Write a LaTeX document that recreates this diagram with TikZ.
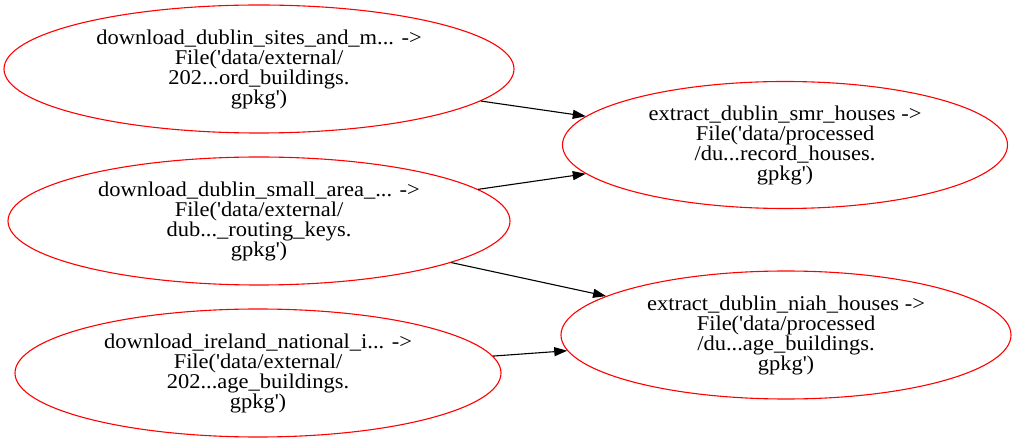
\documentclass[tikz,border=0pt]{standalone}
\usepackage{fontspec}
\setmainfont{Liberation Serif}
\newfontfamily\nodefont{Liberation Serif}[FakeStretch=1.07]
\usetikzlibrary{shapes.geometric,arrows.meta}
\newcommand{\sq}{\textquotesingle}
\begin{document}
\begin{tikzpicture}[x=1pt,y=-1pt,
  task/.style={ellipse,draw=red,line width=1.1pt,inner sep=0pt,align=center,
    font=\nodefont\fontsize{21}{20}\selectfont},
  edge/.style={draw=black,line width=1.1pt,-{Triangle[length=13pt,width=9pt]}}]
\fill[white] (0,0) rectangle (1017,443);
\useasboundingbox (0,0) rectangle (1017,443);
\node[task,minimum width=510pt,minimum height=128pt] (A) at (259,69)
  {download\_dublin\_sites\_and\_m... ->\\File(\sq data/external/\\202...ord\_buildings.\\gpkg\sq)};
\node[task,minimum width=502pt,minimum height=128pt] (B) at (259,221)
  {download\_dublin\_small\_area\_... ->\\File(\sq data/external/\\dub...\_routing\_keys.\\gpkg\sq)};
\node[task,minimum width=486pt,minimum height=128pt] (C) at (258,373)
  {download\_ireland\_national\_i... ->\\File(\sq data/external/\\202...age\_buildings.\\gpkg\sq)};
\node[task,minimum width=445pt,minimum height=127pt] (D) at (785,145)
  {extract\_dublin\_smr\_houses ->\\File(\sq data/processed\\/du...record\_houses.\\gpkg\sq)};
\node[task,minimum width=450pt,minimum height=128pt] (E) at (786,335)
  {extract\_dublin\_niah\_houses ->\\File(\sq data/processed\\/du...age\_buildings.\\gpkg\sq)};
\draw[edge] (A) -- (D);
\draw[edge] (B) -- (D);
\draw[edge] (B) -- (E);
\draw[edge] (C) -- (E);
\end{tikzpicture}
\end{document}
